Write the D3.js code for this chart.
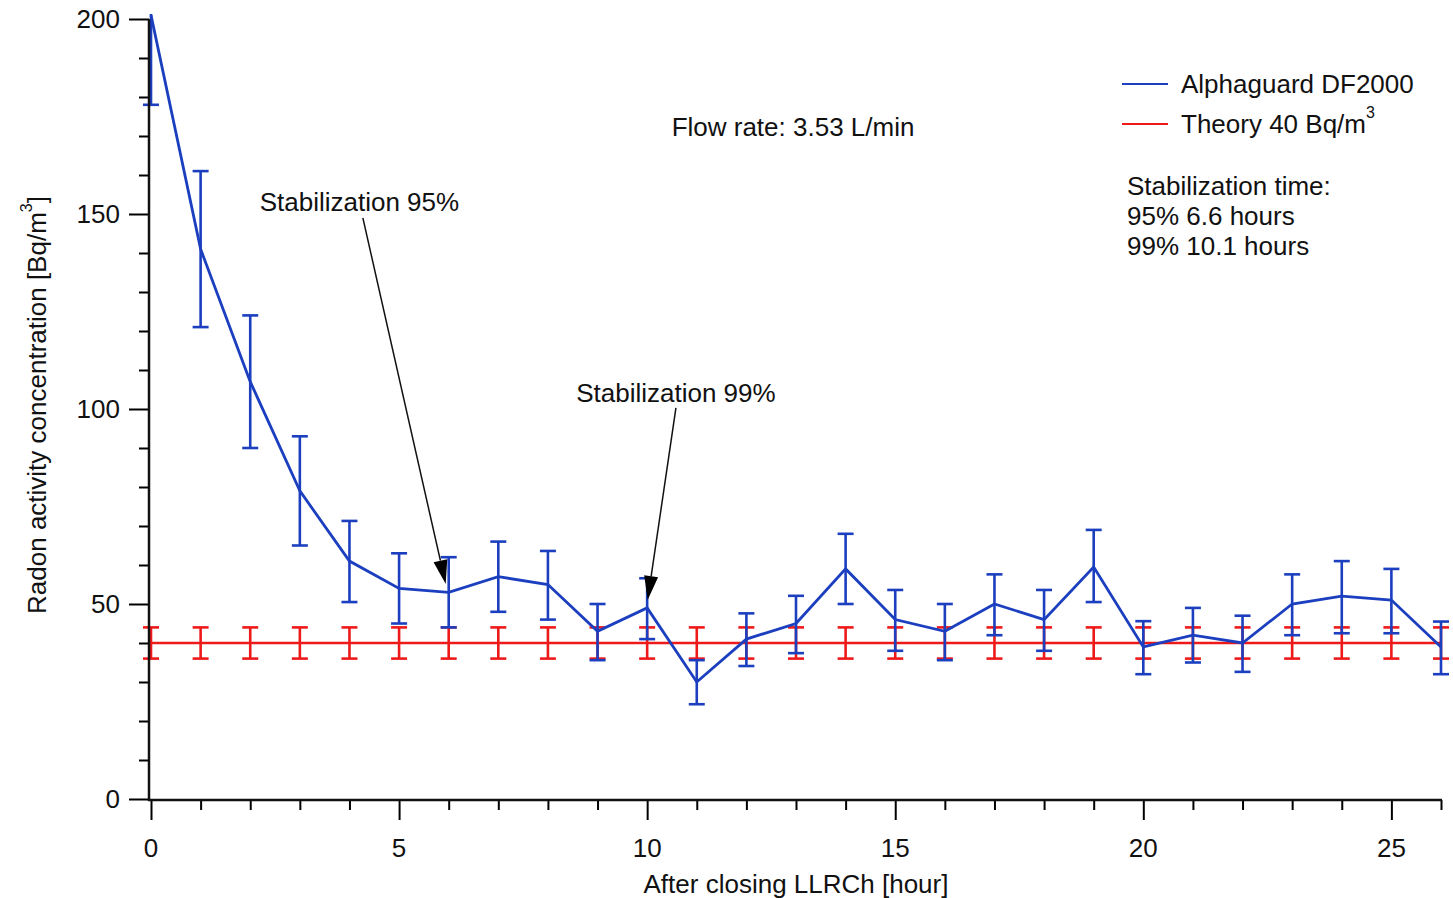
<!DOCTYPE html>
<html>
<head>
<meta charset="utf-8">
<script src="https://cdn.jsdelivr.net/npm/d3@7"></script>
<style>
  body { margin: 0; background: #fff; }
  text { font-family: "Liberation Sans", Arial, sans-serif; fill: #111; }
</style>
</head>
<body>
<div id="chart"></div>
<script>
// hours after closing the chamber
const hours = [0, 1, 2, 3, 4, 5, 6, 7, 8, 9, 10, 11, 12, 13, 14, 15, 16, 17, 18, 19, 20, 21, 22, 23, 24, 25, 26];

// Alphaguard DF2000 readings [Bq/m3] and error bar ends
const alpha     = [201, 141, 107, 79, 61, 54, 53, 57, 55, 43, 49, 30, 41, 45, 59, 46, 43, 50, 46, 59.5, 39, 42, 40, 50, 52, 51, 39];
const alphaLow  = [178, 121, 90, 65, 50.5, 45, 44, 48, 46, 35.6, 41, 24.3, 34.1, 37.4, 50, 38, 35.6, 42, 38, 50.5, 32, 35, 32.6, 42, 42.5, 42.5, 32];
const alphaHigh = [224, 161, 124, 93, 71.3, 63, 62, 66, 63.6, 50, 56.6, 35.6, 47.6, 52.1, 68, 53.6, 50, 57.6, 53.6, 69, 45.6, 49, 47, 57.6, 61, 59, 45.5];

// theoretical value and its uncertainty
const theory = 40;
const theoryErr = 4;

const xTicks = [0, 5, 10, 15, 20, 25];
const yTicks = [0, 50, 100, 150, 200];

const notes = [
  {label: "Stabilization 95%", tx: 4.2, ty: 153, sx: 4.27, sy: 149, ex: 5.94, ey: 55.1},
  {label: "Stabilization 99%", tx: 10.58, ty: 104.1, sx: 10.58, sy: 100.3, ex: 10.01, ey: 51}
];

const blue = "#1b3fbf";
const red = "#ee1a1a";
const fs = 26;

const W = 1453, H = 898;
const margin = {top: 19, right: 12, bottom: 99, left: 151};

const svg = d3.select("#chart").append("svg")
  .attr("width", W)
  .attr("height", H);

const x = d3.scaleLinear().domain([0, 26]).range([margin.left, W - margin.right]);
const y = d3.scaleLinear().domain([0, 200]).range([H - margin.bottom, margin.top]);

svg.append("clipPath").attr("id", "clip")
  .append("rect")
  .attr("x", x(0) - 20).attr("y", y(200) - 5)
  .attr("width", x(26) - x(0) + 40).attr("height", y(0) - y(200) + 5);

const plot = svg.append("g").attr("clip-path", "url(#clip)");

// error bar helper
function errBars(g, xs, lo, hi, color) {
  const cap = 8;
  xs.forEach((h, i) => {
    const xx = x(h);
    g.append("line").attr("x1", xx).attr("x2", xx).attr("y1", y(lo[i])).attr("y2", y(hi[i]))
      .attr("stroke", color).attr("stroke-width", 2.6);
    [lo[i], hi[i]].forEach(v => {
      g.append("line").attr("x1", xx - cap).attr("x2", xx + cap).attr("y1", y(v)).attr("y2", y(v))
        .attr("stroke", color).attr("stroke-width", 2.6);
    });
  });
}

// theory line
const tg = plot.append("g");
tg.append("line")
  .attr("x1", x(0)).attr("x2", x(26)).attr("y1", y(theory)).attr("y2", y(theory))
  .attr("stroke", red).attr("stroke-width", 2.6);
errBars(tg, hours, hours.map(() => theory - theoryErr), hours.map(() => theory + theoryErr), red);

// alphaguard series
const ag = plot.append("g");
errBars(ag, hours, alphaLow, alphaHigh, blue);
ag.append("path")
  .datum(hours.map((h, i) => [h, alpha[i]]))
  .attr("fill", "none")
  .attr("stroke", blue)
  .attr("stroke-width", 2.8)
  .attr("d", d3.line().x(d => x(d[0])).y(d => y(d[1])));

// axes
const yAxisX = x(0) - 2;
const xAxisY = y(0) + 1;

const yAxis = svg.append("g").attr("transform", `translate(${yAxisX},0)`);
yAxis.call(d3.axisLeft(y).tickValues(d3.range(0, 201, 10)).tickSize(10).tickFormat(""));
yAxis.selectAll(".tick line").attr("stroke-width", 2)
  .attr("x2", d => yTicks.includes(d) ? -20 : -10);
yAxis.select(".domain").remove();
yAxis.append("line").attr("x1", 0).attr("x2", 0).attr("y1", y(200)).attr("y2", xAxisY + 1)
  .attr("stroke", "#111").attr("stroke-width", 2.5);
yAxis.selectAll(".ylab").data(yTicks).enter().append("text")
  .attr("x", -29).attr("y", d => y(d)).attr("dy", "0.35em")
  .attr("text-anchor", "end").attr("font-size", fs).text(d => d);

const xAxis = svg.append("g").attr("transform", `translate(0,${xAxisY})`);
xAxis.call(d3.axisBottom(x).tickValues(hours).tickSize(10).tickFormat(""));
xAxis.selectAll(".tick line").attr("stroke-width", 2)
  .attr("y2", d => xTicks.includes(d) ? 20 : 10);
xAxis.select(".domain").remove();
xAxis.append("line").attr("x1", yAxisX - 1).attr("x2", x(26) + 1).attr("y1", 0).attr("y2", 0)
  .attr("stroke", "#111").attr("stroke-width", 2.5);
xAxis.selectAll(".xlab").data(xTicks).enter().append("text")
  .attr("x", d => x(d)).attr("y", 48).attr("dy", "0.35em")
  .attr("text-anchor", "middle").attr("font-size", fs).text(d => d);

// axis titles
svg.append("text")
  .attr("x", (x(0) + x(26)) / 2).attr("y", 884).attr("dy", "0.35em")
  .attr("text-anchor", "middle").attr("font-size", fs)
  .text("After closing LLRCh [hour]");

const yt = svg.append("text")
  .attr("transform", `translate(37,${y(100) - 4}) rotate(-90)`)
  .attr("dy", "0.35em").attr("text-anchor", "middle").attr("font-size", fs);
yt.append("tspan").text("Radon activity concentration [Bq/m");
yt.append("tspan").attr("font-size", 16).attr("dy", "-0.9em").text("3");
yt.append("tspan").attr("dy", "0.55em").text("]");

// annotations with arrows
notes.forEach(n => {
  svg.append("text")
    .attr("x", x(n.tx)).attr("y", y(n.ty)).attr("dy", "0.35em")
    .attr("text-anchor", "middle").attr("font-size", fs).text(n.label);
  const x1 = x(n.sx), y1 = y(n.sy), x2 = x(n.ex), y2 = y(n.ey);
  const ang = Math.atan2(y2 - y1, x2 - x1);
  const len = 24, half = 7;
  const bx = x2 - len * Math.cos(ang), by = y2 - len * Math.sin(ang);
  svg.append("line").attr("x1", x1).attr("y1", y1).attr("x2", bx).attr("y2", by)
    .attr("stroke", "#111").attr("stroke-width", 1.5);
  const px = -Math.sin(ang) * half, py = Math.cos(ang) * half;
  svg.append("path")
    .attr("d", `M${x2},${y2}L${bx + px},${by + py}L${bx - px},${by - py}Z`)
    .attr("fill", "#000");
});

svg.append("text")
  .attr("x", x(12.94)).attr("y", y(172.3)).attr("dy", "0.35em")
  .attr("text-anchor", "middle").attr("font-size", fs).text("Flow rate: 3.53 L/min");

// legend
const legend = svg.append("g");
const legendItems = [
  {label: "Alphaguard DF2000", color: blue, sup: null, yy: 84},
  {label: "Theory 40 Bq/m", color: red, sup: "3", yy: 124}
];
legendItems.forEach(d => {
  legend.append("line").attr("x1", 1122).attr("x2", 1168).attr("y1", d.yy).attr("y2", d.yy)
    .attr("stroke", d.color).attr("stroke-width", 2);
  const t = legend.append("text").attr("x", 1181).attr("y", d.yy).attr("dy", "0.35em")
    .attr("font-size", fs).text(d.label);
  if (d.sup) t.append("tspan").attr("font-size", 16).attr("dy", "-0.95em").text(d.sup);
});
["Stabilization time:", "95% 6.6 hours", "99% 10.1 hours"].forEach((s, i) => {
  legend.append("text").attr("x", 1127).attr("y", 186 + i * 30).attr("dy", "0.35em")
    .attr("font-size", fs).text(s);
});
</script>
</body>
</html>
